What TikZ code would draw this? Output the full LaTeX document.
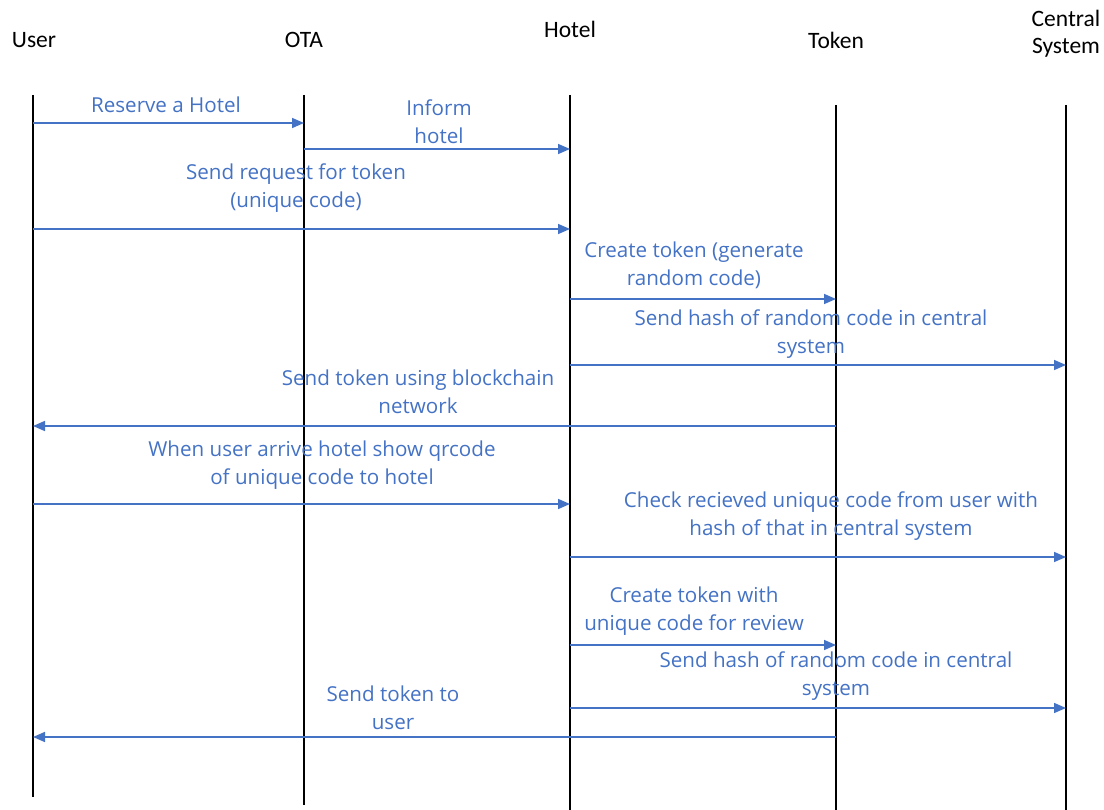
\documentclass[tikz,border=0pt]{standalone}
\usepackage{fontspec}
\setmainfont{Open Sans}
\newfontfamily\headfont{Carlito}
\usetikzlibrary{arrows.meta}
\definecolor{msgblue}{HTML}{4472C4}
\tikzset{
  head/.style={font=\headfont\fontsize{23.5}{27}\selectfont, text=black, align=center, inner sep=0pt},
  life/.style={line width=1.8pt, black},
  msg/.style={line width=1.6pt, msgblue, -{Triangle[length=12pt,width=10pt]}},
  lbl/.style={font=\fontsize{20.6}{28}\selectfont, text=msgblue, align=center, inner sep=0pt}
}
\begin{document}
\begin{tikzpicture}[x=1pt,y=-1pt]
\useasboundingbox (0,0) rectangle (1104,810);
% headers
\node[head] (huser) at (34,40) {User};
\node[head] (hota) at (304,40) {OTA};
\node[head] (hhotel) at (570,29) {Hotel};
\node[head] (htoken) at (836,40) {Token};
\node[head] (hcentral) at (1066,34) {Central\\System};
% lifelines
\coordinate (U) at (33,95);  \coordinate (Ub) at (33,797);
\coordinate (O) at (304,95); \coordinate (Ob) at (304,805);
\coordinate (H) at (570,95); \coordinate (Hb) at (570,810);
\coordinate (T) at (836,105); \coordinate (Tb) at (836,810);
\coordinate (C) at (1066,105); \coordinate (Cb) at (1066,810);
\draw[life] (U) -- (Ub);
\draw[life] (O) -- (Ob);
\draw[life] (H) -- (Hb);
\draw[life] (T) -- (Tb);
\draw[life] (C) -- (Cb);
% messages
\draw[msg] (U |- 0,123) -- (O |- 0,123);
\node[lbl] (l1) at (166,105) {Reserve a Hotel};
\draw[msg] (O |- 0,149) -- (H |- 0,149);
\node[lbl] (l2) at (439,122) {Inform\\hotel};
\draw[msg] (U |- 0,229) -- (H |- 0,229);
\node[lbl] (l3) at (296,188) {Send request for token\\(unique code)};
\draw[msg] (H |- 0,299) -- (T |- 0,299);
\node[lbl] (l4) at (694,265) {Create token (generate\\random code)};
\draw[msg] (H |- 0,365) -- (C |- 0,365);
\node[lbl] (l5) at (811,334) {Send hash of random code in central\\system};
\draw[msg] (T |- 0,426) -- (U |- 0,426);
\node[lbl] (l6) at (418,392) {Send token using blockchain\\network};
\draw[msg] (U |- 0,504) -- (H |- 0,504);
\node[lbl] (l7) at (322,465) {When user arrive hotel show qrcode\\of unique code to hotel};
\draw[msg] (H |- 0,557) -- (C |- 0,557);
\node[lbl] (l8) at (831,516) {Check recieved unique code from user with\\hash of that in central system};
\draw[msg] (H |- 0,645) -- (T |- 0,645);
\node[lbl] (l9) at (694,611) {Create token with\\unique code for review};
\draw[msg] (H |- 0,708) -- (C |- 0,708);
\node[lbl] (l10) at (836,676) {Send hash of random code in central\\system};
\draw[msg] (T |- 0,737) -- (U |- 0,737);
\node[lbl] (l11) at (393,708) {Send token to\\user};
\end{tikzpicture}
\end{document}
